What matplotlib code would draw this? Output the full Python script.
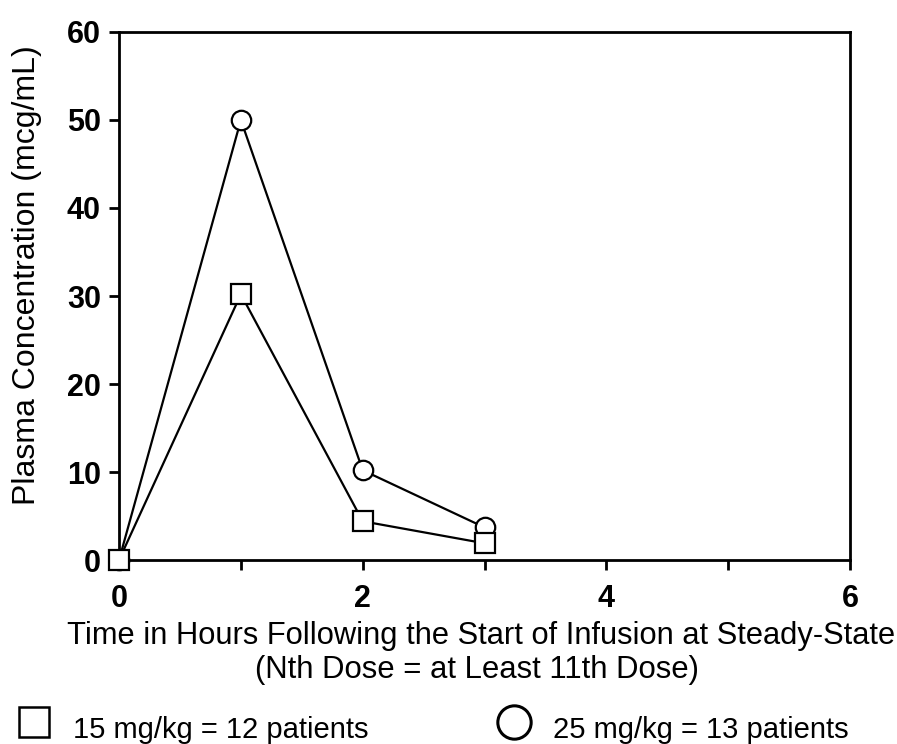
import matplotlib
matplotlib.use("Agg")
import matplotlib.pyplot as plt
from matplotlib.lines import Line2D

plt.rcParams['font.family'] = ['Liberation Sans', 'DejaVu Sans']

hours = [0, 1, 2, 3]
conc_15 = [0, 30.2, 4.4, 1.9]
conc_25 = [0, 50.0, 10.2, 3.7]
label_15 = "15 mg/kg = 12 patients"
label_25 = "25 mg/kg = 13 patients"

fig = plt.figure(figsize=(8.97, 7.44), dpi=100)
ax = fig.add_axes([0.1327, 0.2473, 0.815, 0.7097])

ax.plot(hours, conc_25, color='black', lw=1.6, marker='o', ms=14,
        mfc='white', mec='black', mew=1.6, clip_on=False, zorder=3)
ax.plot(hours, conc_15, color='black', lw=1.6, marker='s', ms=15,
        mfc='white', mec='black', mew=1.6, clip_on=False, zorder=4)

ax.set_xlim(0, 6)
ax.set_ylim(0, 60)
ax.set_xticks(range(0, 7))
ax.set_xticklabels(['0', '', '2', '', '4', '', '6'])
ax.set_yticks(range(0, 61, 10))
ax.tick_params(direction='out', length=7, width=2, labelsize=22)
ax.tick_params(axis='x', pad=10)
ax.tick_params(axis='y', pad=6)
for lab in ax.get_xticklabels() + ax.get_yticklabels():
    lab.set_fontweight('bold')
for sp in ax.spines.values():
    sp.set_linewidth(2)

fig.text(0.030, 0.630, "Plasma Concentration (mcg/mL)", rotation=90,
         fontsize=23, ha='center', va='center')
fig.text(0.536, 1 - 644 / 744, "Time in Hours Following the Start of Infusion at Steady-State",
         ha='center', va='baseline', fontsize=22.2)
fig.text(0.532, 1 - 678 / 744, "(Nth Dose = at Least 11th Dose)",
         ha='center', va='baseline', fontsize=22.4)

# legend below the axes
mark_y = 1 - 722 / 744
text_y = 1 - 738 / 744
fig.add_artist(Line2D([0.038], [mark_y], marker='s', ms=22, mfc='white', mec='black',
                      mew=1.8, ls='none', transform=fig.transFigure))
fig.text(0.081, text_y, label_15, fontsize=21, ha='left', va='baseline')
fig.add_artist(Line2D([0.573], [mark_y], marker='o', ms=24, mfc='white', mec='black',
                      mew=2.2, ls='none', transform=fig.transFigure))
fig.text(0.616, text_y, label_25, fontsize=21, ha='left', va='baseline')

fig.savefig("out.png", dpi=100)
